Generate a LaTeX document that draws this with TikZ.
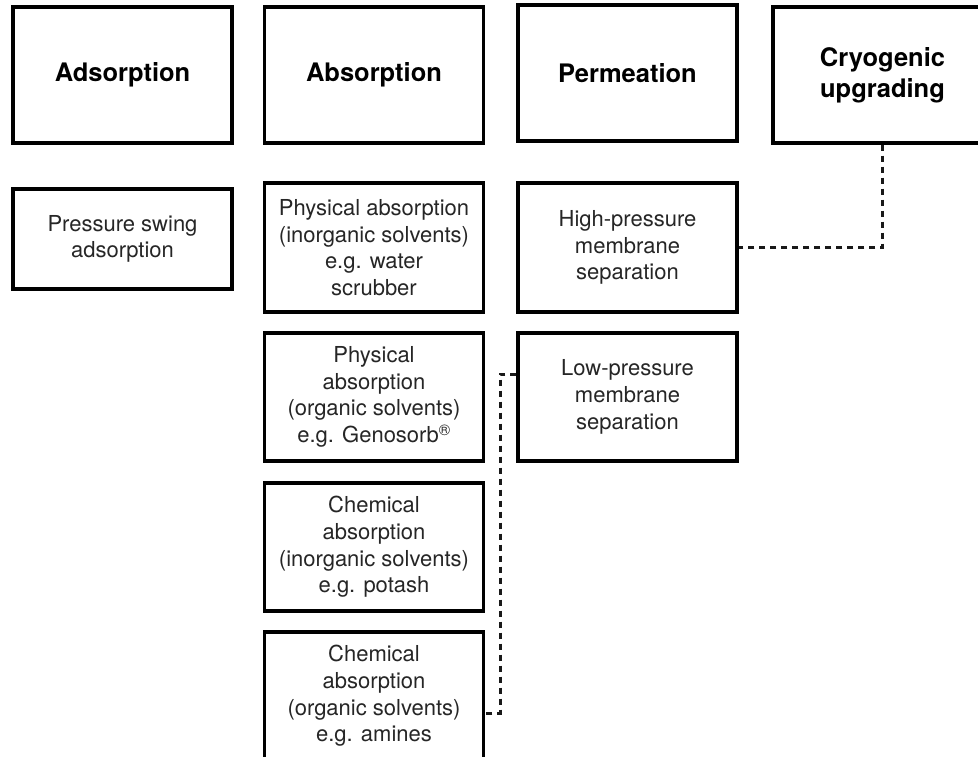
\documentclass[tikz,border=0pt]{standalone}
\usepackage{fontspec}
\setmainfont{TeX Gyre Heros}
\begin{document}
\begin{tikzpicture}[x=1pt,y=-1pt,
  box/.style={draw=black,line width=3.2pt,rectangle,minimum width=219pt,inner sep=0pt,align=center,
    font=\fontsize{22}{26.7}\selectfont,text=black!85},
  headbox/.style={box,minimum height=136pt,font=\fontsize{25.5}{30.7}\selectfont\bfseries,text=black},
  link/.style={draw=black!90,line width=3pt,dash pattern=on 6pt off 5pt}]
\useasboundingbox (0,0) rectangle (978,757);
\clip (0,0) rectangle (978,757);
\fill[white] (0,0) rectangle (978,757);
% header row
\node[headbox] (ads) at (122.5,75) {Adsorption};
\node[headbox] (abs) at (374,75) {Absorption};
\node[headbox] (perm) at (627.5,73) {Permeation};
\node[headbox] (cryo) at (882.5,75) {Cryogenic\\upgrading};
% second level
\node[box,minimum height=100pt] (psa) at (122.5,239) {Pressure swing\\adsorption};
\node[box,minimum height=129pt] (phys1) at (374,247.5) {Physical absorption\\(inorganic solvents)\\e.g. water\\scrubber};
\node[box,minimum height=129pt] (hp) at (627.5,247.5) {High-pressure\\membrane\\separation};
\node[box,minimum height=128pt] (phys2) at (374,397) {Physical\\absorption\\(organic solvents)\\e.g. Genosorb\textsuperscript{\textregistered}};
\node[box,minimum height=128pt] (lp) at (627.5,397) {Low-pressure\\membrane\\separation};
\node[box,minimum height=128pt] (chem1) at (374,547) {Chemical\\absorption\\(inorganic solvents)\\e.g. potash};
\node[box,minimum height=128pt] (chem2) at (374,696) {Chemical\\absorption\\(organic solvents)\\e.g. amines};
% connectors
\draw[link] (cryo.south) |- (hp.east);
\coordinate (c1) at (500,374);
\coordinate (c2) at (500,713);
\draw[link] (lp.west |- c1) -- (c1) -- (c2) -- (chem2.east |- c2);
\end{tikzpicture}
\end{document}
